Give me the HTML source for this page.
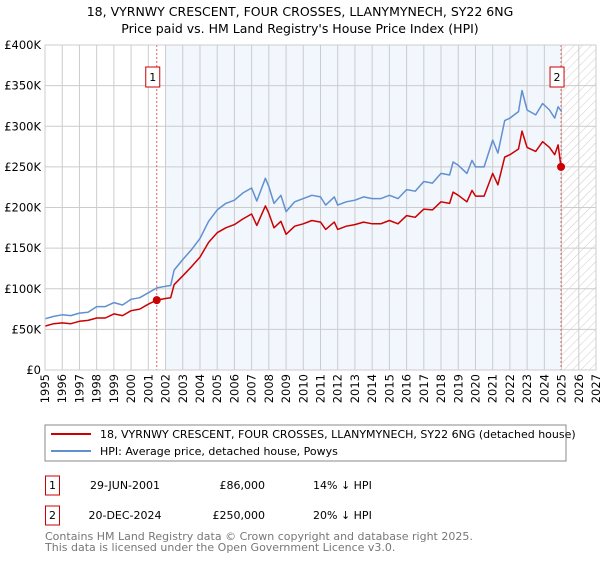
<!DOCTYPE html>
<html><head><meta charset="utf-8"><style>
body{margin:0;background:#fff;font-family:"Liberation Sans","DejaVu Sans",sans-serif;}
svg text{font-family:"DejaVu Sans","Liberation Sans",sans-serif;}
</style></head><body>
<svg id="c" width="600" height="560" viewBox="0 0 600 560">
<defs><pattern id="hatch" width="6" height="6" patternUnits="userSpaceOnUse" patternTransform="rotate(45)"><line x1="0" y1="0" x2="0" y2="6" stroke="#ccc" stroke-width="1"/></pattern></defs>
<text x="300" y="16" text-anchor="middle" font-size="12.5">18, VYRNWY CRESCENT, FOUR CROSSES, LLANYMYNECH, SY22 6NG</text>
<text x="300" y="33" text-anchor="middle" font-size="12.5">Price paid vs. HM Land Registry's House Price Index (HPI)</text>
<g id="plot"></g>
<rect x="45" y="425" width="521" height="36" fill="#fff" stroke="#888"/>
<line x1="51" y1="434" x2="91" y2="434" stroke="#cc0000" stroke-width="2"/>
<text x="100" y="438" font-size="11">18, VYRNWY CRESCENT, FOUR CROSSES, LLANYMYNECH, SY22 6NG (detached house)</text>
<line x1="51" y1="451" x2="91" y2="451" stroke="#6090d0" stroke-width="2"/>
<text x="100" y="455" font-size="11">HPI: Average price, detached house, Powys</text>
<g font-size="11">
<rect x="45.5" y="476" width="14" height="19" fill="none" stroke="#cc0000"/><text x="52.5" y="489" text-anchor="middle">1</text>
<text x="125" y="489" text-anchor="middle">29-JUN-2001</text><text x="265" y="489" text-anchor="end">£86,000</text><text x="313" y="489">14% ↓ HPI</text></g>
<g font-size="11">
<rect x="45.5" y="506" width="14" height="19" fill="none" stroke="#cc0000"/><text x="52.5" y="519" text-anchor="middle">2</text>
<text x="125" y="519" text-anchor="middle">20-DEC-2024</text><text x="265" y="519" text-anchor="end">£250,000</text><text x="313" y="519">20% ↓ HPI</text></g>
<text x="45" y="540" font-size="11" fill="#777">Contains HM Land Registry data © Crown copyright and database right 2025.</text>
<text x="45" y="551" font-size="11" fill="#777">This data is licensed under the Open Government Licence v3.0.</text>
</svg>
<script>
const hpiYears=[1995,1995.5,1996,1996.5,1997,1997.5,1998,1998.5,1999,1999.5,2000,2000.5,2001,2001.5,2002,2002.3,2002.5,2003,2003.5,2004,2004.5,2005,2005.5,2006,2006.5,2007,2007.3,2007.8,2008,2008.3,2008.7,2009,2009.5,2010,2010.5,2011,2011.3,2011.8,2012,2012.5,2013,2013.5,2014,2014.5,2015,2015.5,2016,2016.5,2017,2017.5,2018,2018.5,2018.7,2019,2019.5,2019.8,2020,2020.5,2021,2021.3,2021.7,2022,2022.5,2022.7,2023,2023.5,2023.9,2024.3,2024.6,2024.8,2025];
const hpiValues=[63,66,68,67,70,71,78,78,83,80,87,89,95,101,103,104,123,136,148,162,183,197,205,209,218,224,208,236,226,205,215,195,207,211,215,213,203,213,203,207,209,213,211,211,215,211,222,220,232,230,242,240,256,252,242,258,250,250,283,267,307,310,318,344,320,314,328,320,310,324,318];
const propYears=[1995,1995.5,1996,1996.5,1997,1997.5,1998,1998.5,1999,1999.5,2000,2000.5,2001,2001.5,2002,2002.3,2002.5,2003,2003.5,2004,2004.5,2005,2005.5,2006,2006.5,2007,2007.3,2007.8,2008,2008.3,2008.7,2009,2009.5,2010,2010.5,2011,2011.3,2011.8,2012,2012.5,2013,2013.5,2014,2014.5,2015,2015.5,2016,2016.5,2017,2017.5,2018,2018.5,2018.7,2019,2019.5,2019.8,2020,2020.5,2021,2021.3,2021.7,2022,2022.5,2022.7,2023,2023.5,2023.9,2024.3,2024.6,2024.8,2024.97];
const propValues=[54,57,58,57,60,61,64,64,69,67,73,75,81,86,88,89,105,116,127,139,157,169,175,179,186,192,178,202,193,175,183,167,177,180,184,182,173,182,173,177,179,182,180,180,184,180,190,188,198,197,207,205,219,215,207,221,214,214,242,228,262,265,272,294,274,269,281,274,265,277,250];
const yTicks=[0,50,100,150,200,250,300,350,400];
const yTickLabels=["£0","£50K","£100K","£150K","£200K","£250K","£300K","£350K","£400K"];
const xTicks=[];for(let y=1995;y<=2027;y++)xTicks.push(y);
const sales=[{t:2001.49,v:86,n:"1"},{t:2024.97,v:250,n:"2"}];
const X0=45,X1=596,Y0=370,Y1=45;
const xs=t=>X0+(t-1995)/(2027-1995)*(X1-X0);
const ys=v=>Y0-v/400*(Y0-Y1);
const NS="http://www.w3.org/2000/svg",g=document.getElementById('plot');
function el(tag,a){const e=document.createElementNS(NS,tag);for(const k in a)e.setAttribute(k,a[k]);g.appendChild(e);return e;}
let e=el('rect',{x:xs(2002),y:Y1,width:xs(2025)-xs(2002),height:Y0-Y1,fill:'#f2f6fd'});

e=el('rect',{x:xs(2025),y:Y1,width:X1-xs(2025),height:Y0-Y1,fill:'url(#hatch)'});

yTicks.forEach((v,i)=>{
 e=el('line',{x1:X0,x2:X1,y1:ys(v),y2:ys(v),stroke:'#ccc'});
 
 e=el('text',{x:X0-4,y:ys(v)+4,'text-anchor':'end','font-size':'11.5'});e.textContent=yTickLabels[i];
 
});
xTicks.forEach(t=>{
 e=el('line',{x1:xs(t),x2:xs(t),y1:Y1,y2:Y0,stroke:'#ccc'});
 
 e=el('text',{x:0,y:0,'text-anchor':'end','font-size':'11.5',transform:`translate(${xs(t)+4},${Y0+4}) rotate(-90)`});e.textContent=t;
 
});
sales.forEach(s=>{
 e=el('line',{x1:xs(s.t),x2:xs(s.t),y1:Y1,y2:Y0,stroke:'#e06060','stroke-dasharray':'2,2'});
 
});
function path(xa,va,col,name){
 const d=xa.map((t,i)=>(i?'L':'M')+xs(t).toFixed(1)+','+ys(va[i]).toFixed(1)).join('');
 e=el('path',{d:d,fill:'none',stroke:col,'stroke-width':1.5,'stroke-linejoin':'round'});
 
}
path(hpiYears,hpiValues,'#6090d0','hpi-line');
path(propYears,propValues,'#cc0000','property-line');
sales.forEach(s=>{
 e=el('circle',{cx:xs(s.t),cy:ys(s.v),r:4,fill:'#cc0000'});
 
 e=el('rect',{x:xs(s.t)-11,y:67,width:14,height:20,fill:'#fff',stroke:'#cc0000'});
 
 e=el('text',{x:xs(s.t)-4,y:81,'text-anchor':'middle','font-size':'11'});e.textContent=s.n;
 
});
e=el('rect',{x:X0,y:Y1,width:X1-X0,height:Y0-Y1,fill:'none',stroke:'#ccc'});

</script>
</body></html>
